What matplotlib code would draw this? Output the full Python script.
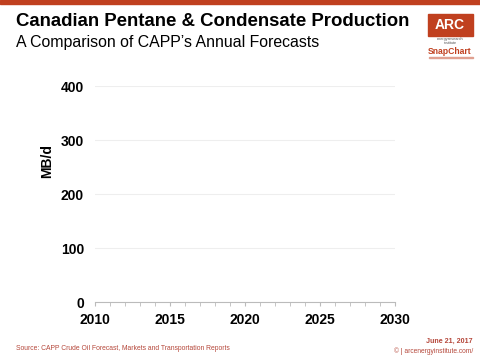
import matplotlib.pyplot as plt
from matplotlib.patches import Rectangle

plt.rcParams['font.family'] = ['Liberation Sans', 'DejaVu Sans']

# chart data (the reference shows an empty frame, no series drawn yet)
years = list(range(2010, 2031))
year_labels = [2010, 2015, 2020, 2025, 2030]
y_ticks = [0, 100, 200, 300, 400]

red = '#c0401f'
text_red = '#b5473a'

fig = plt.figure(figsize=(4.8, 3.6), dpi=100)
ax = fig.add_axes([0.198, 0.161, 0.625, 0.6])

ax.set_xlim(years[0], years[-1])
ax.set_ylim(y_ticks[0], y_ticks[-1])
ax.set_xticks(year_labels)
ax.set_xticks(years, minor=True)
ax.set_yticks(y_ticks)
ax.grid(axis='y', color='#eeeeee', linewidth=0.8)
ax.set_axisbelow(True)

for s in ['top', 'right', 'left']:
    ax.spines[s].set_visible(False)
ax.spines['bottom'].set_color('#bbbbbb')
ax.spines['bottom'].set_linewidth(0.8)

ax.tick_params(axis='x', which='both', direction='out', length=3, color='#bbbbbb', pad=5)
ax.tick_params(axis='y', length=0, pad=8)
for lab in ax.get_xticklabels() + ax.get_yticklabels():
    lab.set_fontweight('bold')
    lab.set_fontsize(10)

# y label sits above the middle, as in the reference
ax.set_ylabel('MB/d', fontsize=10, fontweight='bold', va='center')
ax.yaxis.set_label_coords(-0.16, 0.653)

# header band and titles
fig.patches.append(Rectangle((0, 1 - 4 / 360), 1, 4 / 360, transform=fig.transFigure,
                             color=red, zorder=5))
fig.text(16 / 480, 1 - 21 / 360, 'Canadian Pentane & Condensate Production',
         fontsize=13.4, fontweight='bold', va='center', ha='left')
fig.text(16 / 480, 1 - 42 / 360, 'A Comparison of CAPP\u2019s Annual Forecasts',
         fontsize=11.4, va='center', ha='left')

# logo
fig.patches.append(Rectangle((428 / 480, 1 - 36 / 360), 45 / 480, 22 / 360,
                             transform=fig.transFigure, color=red, zorder=5))
fig.text(450 / 480, 1 - 25 / 360, 'ARC', color='white', fontsize=10, fontweight='bold',
         ha='center', va='center', zorder=6)
fig.text(450 / 480, 1 - 39 / 360, 'energyresearch', fontsize=2.8, ha='center',
         va='center', color='#555555')
fig.text(450 / 480, 1 - 42.5 / 360, 'institute', fontsize=2.8, ha='center',
         va='center', color='#555555')
fig.text(450 / 480, 1 - 51 / 360, 'SnapChart', color=red, fontsize=6.2, fontweight='bold',
         ha='center', va='center')
fig.patches.append(Rectangle((429 / 480, 1 - 58 / 360), 44 / 480, 0.8 / 360,
                             transform=fig.transFigure, color='#e0a090'))

# footer
fig.text(16 / 480, 1 - 349 / 360,
         'Source: CAPP Crude Oil Forecast, Markets and Transportation Reports',
         fontsize=4.9, color=text_red, ha='left', va='center')
fig.text(473 / 480, 1 - 341 / 360, 'June 21, 2017', fontsize=5.1, color=text_red,
         fontweight='bold', ha='right', va='center')
fig.text(473 / 480, 1 - 351 / 360, '\u00a9 | arcenergyinstitute.com/', fontsize=4.8,
         color=text_red, ha='right', va='center')

fig.savefig('out.png', dpi=100)
